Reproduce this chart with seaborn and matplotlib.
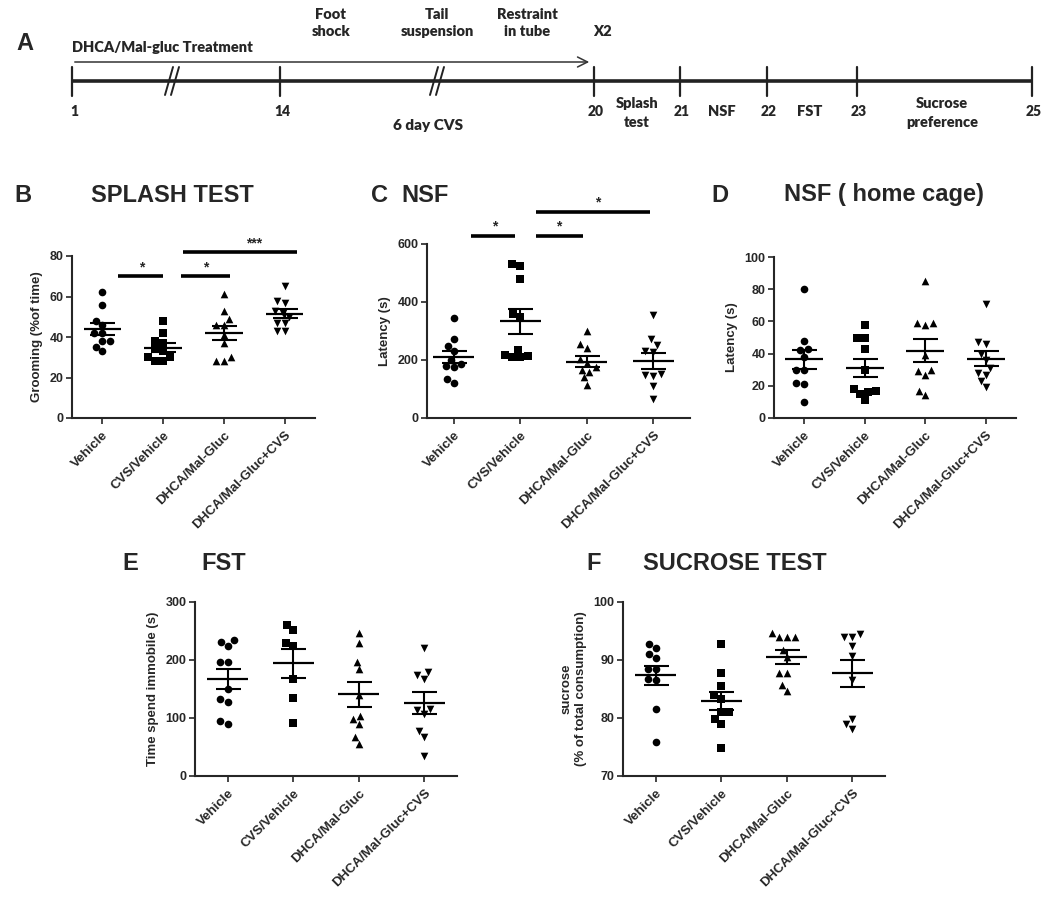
import numpy as np
import pandas as pd
import matplotlib
matplotlib.use("Agg")
import matplotlib.pyplot as plt
import seaborn as sns

groups = ["Vehicle", "CVS/Vehicle", "DHCA/Mal-Gluc", "DHCA/Mal-Gluc+CVS"]
group_markers = ["o", "s", "^", "v"]

# B - splash test, grooming (% of time)
splash_vehicle = [62, 56, 48, 46, 42, 42, 38, 38, 33, 35]
splash_cvs = [48, 42, 38, 37, 34, 33, 30, 30, 28, 28]
splash_dhca = [61, 53, 49, 46, 46, 41, 37, 30, 28, 28]
splash_dhca_cvs = [65, 58, 57, 53, 52, 50, 47, 47, 43, 43]

# C - NSF latency (s)
nsf_vehicle = [346, 273, 250, 230, 200, 185, 180, 175, 135, 120]
nsf_cvs = [530, 524, 479, 358, 350, 235, 218, 210, 210, 215]
nsf_dhca = [300, 255, 240, 205, 190, 175, 165, 160, 140, 115]
nsf_dhca_cvs = [355, 272, 252, 232, 228, 152, 148, 145, 112, 65]

# D - NSF home cage latency (s)
home_vehicle = [80, 48, 43, 42, 38, 30, 30, 22, 21, 10]
home_cvs = [58, 50, 50, 43, 30, 18, 17, 16, 15, 11]
home_dhca = [85, 59, 58, 59, 39, 30, 29, 27, 17, 14]
home_dhca_cvs = [71, 47, 46, 40, 36, 31, 28, 27, 23, 19]

# E - FST immobility (s)
fst_vehicle = [234, 231, 225, 197, 196, 150, 132, 128, 94, 89]
fst_cvs = [260, 251, 230, 224, 168, 134, 91]
fst_dhca = [247, 229, 197, 184, 139, 104, 98, 89, 67, 55]
fst_dhca_cvs = [220, 180, 174, 168, 116, 114, 107, 77, 67, 34]

# F - sucrose preference (% of total consumption)
suc_vehicle = [92.7, 92.0, 91.1, 90.4, 88.5, 88.4, 86.7, 86.5, 81.5, 75.8]
suc_cvs = [92.7, 87.7, 85.5, 83.9, 83.2, 81.1, 81.1, 79.9, 79.0, 74.8]
suc_dhca = [94.7, 94.0, 94.0, 94.0, 91.7, 90.5, 87.8, 87.8, 85.7, 84.6]
suc_dhca_cvs = [94.5, 94.0, 94.0, 92.5, 90.7, 86.5, 79.9, 79.0, 78.1]

# A - timeline (schematic positions)
tl_days = ["1", "14", "20", "21", "22", "23", "25"]
tl_x = [72, 280, 594, 680, 767, 857, 1032]
tl_stages = ["Splash\ntest", "NSF", "FST", "Sucrose\npreference"]
tl_stage_x = [637, 722, 810, 942]
tl_stress = ["Foot\nshock", "Tail\nsuspension", "Restraint\nin tube"]
tl_stress_x = [331, 437, 527]
tl_breaks = [172, 437]

sns.set_theme(style="ticks")
plt.rcParams["font.family"] = ["Liberation Sans", "DejaVu Sans"]
plt.rcParams["font.weight"] = "bold"
plt.rcParams["axes.labelweight"] = "bold"

W, H = 1050, 900
fig = plt.figure(figsize=(10.5, 9), dpi=100)

# background axes in pixel units for the timeline and panel titles
bg = fig.add_axes([0, 0, 1, 1], zorder=-1)
bg.set_xlim(0, W)
bg.set_ylim(H, 0)
bg.axis("off")

tl_font = ["Lato", "DejaVu Sans"]
bg.plot([tl_x[0], tl_x[-1]], [81, 81], color="#222222", lw=2.6, solid_capstyle="butt")
for x, d in zip(tl_x, tl_days):
    bg.plot([x, x], [67, 96], color="#222222", lw=1.6)
    bg.text(x + 2, 111, d, ha="center", va="center", fontsize=10, family=tl_font, fontweight="heavy")
for x in tl_breaks:
    for dx in (-3, 3):
        bg.plot([x + dx - 4, x + dx + 4], [95, 67], color="#222222", lw=1.4)
bg.annotate("", xy=(592, 62), xytext=(72, 62),
            arrowprops=dict(arrowstyle="->,head_length=0.6,head_width=0.3", lw=1.1, color="#333333"))
bg.text(72, 48, "DHCA/Mal-gluc Treatment", ha="left", va="center", fontsize=10.5,
        family=tl_font, fontweight="heavy")
for x, s in zip(tl_stress_x, tl_stress):
    bg.text(x, 23, s, ha="center", va="center", fontsize=10.5, family=tl_font,
            fontweight="heavy", linespacing=1.35)
bg.text(602, 31, "X2", ha="center", va="center", fontsize=10.5, family=tl_font, fontweight="heavy")
bg.text(428, 125, "6 day CVS", ha="center", va="center", fontsize=11, family=tl_font, fontweight="heavy")
for x, s in zip(tl_stage_x, tl_stages):
    if "\n" in s:
        bg.text(x, 113, s, ha="center", va="center", fontsize=10.5, family=tl_font,
                fontweight="heavy", linespacing=1.6)
    else:
        bg.text(x, 111, s, ha="center", va="center", fontsize=10.5, family=tl_font, fontweight="heavy")
bg.text(16, 44, "A", ha="left", va="center", fontsize=17)

# panel titles
titles = [
    ("B", 14, "SPLASH TEST", 172, 195),
    ("C", 371, "NSF", 425, 195),
    ("D", 711, "NSF ( home cage)", 884, 195),
    ("E", 122, "FST", 224, 564),
    ("F", 586, "SUCROSE TEST", 735, 564),
]
for letter, lx, name, nx, y in titles:
    bg.text(lx, y, letter, ha="left", va="center", fontsize=17)
    bg.text(nx, y, name, ha="center", va="center", fontsize=17)


def px_rect(left, top, right, bottom):
    return [left / W, 1 - bottom / H, (right - left) / W, (bottom - top) / H]


def draw_panel(rect, values, ylim, yticks, ylabel, xlim=(-0.5, 3.5), sig=None):
    ax = fig.add_axes(px_rect(*rect))
    df = pd.DataFrame({
        "group": np.repeat(groups, [len(v) for v in values]),
        "value": np.concatenate(values),
    })
    for g, m in zip(groups, group_markers):
        sns.swarmplot(data=df[df["group"] == g], x="group", y="value", order=groups,
                      marker=m, color="black", size=5.5, linewidth=0, ax=ax, zorder=2)
    stats = df.groupby("group", sort=False)["value"].agg(["mean", "std", "count"])
    for i, g in enumerate(groups):
        m = stats.loc[g, "mean"]
        se = stats.loc[g, "std"] / np.sqrt(stats.loc[g, "count"])
        ax.hlines(m, i - 0.31, i + 0.31, color="black", lw=1.6, zorder=3)
        ax.errorbar(i, m, yerr=se, color="black", lw=1.5, capsize=9, capthick=1.5, zorder=3)
    ax.set_xlim(*xlim)
    ax.set_ylim(*ylim)
    ax.set_yticks(yticks)
    ax.set_xticks(range(len(groups)))
    ax.set_xticklabels(groups, rotation=45, ha="right", rotation_mode="anchor",
                       fontsize=9.5, fontweight="bold")
    ax.tick_params(axis="y", labelsize=9, length=4, width=1.2, pad=2)
    ax.tick_params(axis="x", length=4, width=1.2, pad=4)
    for lab in ax.get_yticklabels():
        lab.set_fontweight("bold")
    ax.set_xlabel("")
    ax.set_ylabel(ylabel, fontsize=9.5, fontweight="bold", labelpad=5)
    sns.despine(ax=ax)
    for s in ("left", "bottom"):
        ax.spines[s].set_linewidth(1.5)
    span = ylim[1] - ylim[0]
    if sig:
        for x0, x1, y, label, tx in sig:
            ax.plot([x0, x1], [y, y], color="black", lw=2.6, clip_on=False, solid_capstyle="butt")
            ax.text(tx, y + span * 0.055, label, ha="center", va="center",
                    fontsize=10, fontweight="bold", clip_on=False)
    return ax


draw_panel((72, 256, 315, 418),
           [splash_vehicle, splash_cvs, splash_dhca, splash_dhca_cvs],
           (0, 80), [0, 20, 40, 60, 80], "Grooming (%of time)",
           sig=[(0.25, 1.0, 70, "*", 0.65), (1.3, 2.1, 70, "*", 1.7), (1.33, 3.2, 82, "***", 2.5)])

draw_panel((427, 244, 690, 418),
           [nsf_vehicle, nsf_cvs, nsf_dhca, nsf_dhca_cvs],
           (0, 600), [0, 200, 400, 600], "Latency (s)", xlim=(-0.4, 3.55),
           sig=[(0.26, 0.92, 627, "*", 0.62), (1.23, 1.95, 627, "*", 1.58), (1.23, 2.95, 711, "*", 2.17)])

draw_panel((774, 257, 1016, 418),
           [home_vehicle, home_cvs, home_dhca, home_dhca_cvs],
           (0, 100), [0, 20, 40, 60, 80, 100], "Latency (s)")

draw_panel((195, 602, 457, 776),
           [fst_vehicle, fst_cvs, fst_dhca, fst_dhca_cvs],
           (0, 300), [0, 100, 200, 300], "Time spend immobile (s)")

draw_panel((623, 602, 885, 776),
           [suc_vehicle, suc_cvs, suc_dhca, suc_dhca_cvs],
           (70, 100), [70, 80, 90, 100], "sucrose\n(% of total consumption)")

fig.savefig("out.png", dpi=100, facecolor="white")
